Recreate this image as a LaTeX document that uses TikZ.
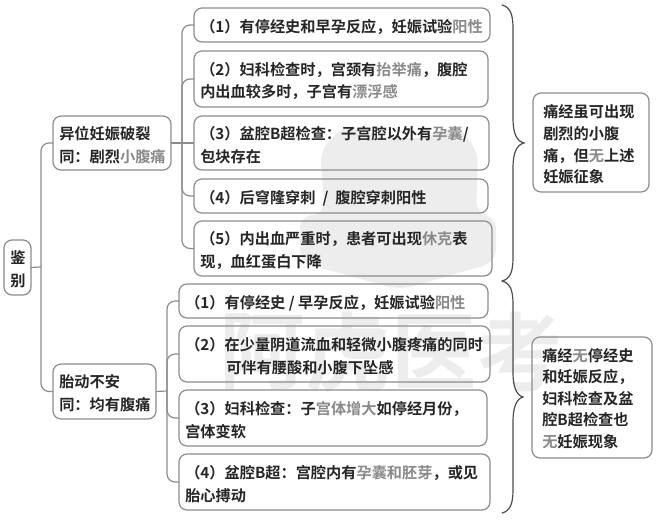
\documentclass[tikz,border=0pt]{standalone}
\usepackage{fontspec}
\setmainfont{Noto Sans CJK SC Bold}
\usetikzlibrary{calc}
\definecolor{inkc}{HTML}{262626}
\definecolor{hic}{HTML}{8A8A8A}
\definecolor{linec}{HTML}{8C8C8C}
\definecolor{wmc}{HTML}{EDEDED}
\newcommand{\hl}[1]{\textcolor{hic}{#1}}
\tikzset{
  x=0.75pt,y=-0.75pt,
  boxn/.style={draw=linec,line width=0.9pt,rounded corners=6pt,fill=none,inner sep=0pt,outer sep=0pt,anchor=north west},
  boxt/.style={anchor=west,inner sep=0pt,font=\fontsize{11.4pt}{17pt}\selectfont,text=inkc,align=left},
  sidet/.style={boxt,font=\fontsize{11.4pt}{16.2pt}\selectfont},
  conn/.style={draw=linec,line width=0.9pt,rounded corners=6pt},
  brc/.style={draw=black!70,line width=0.9pt,line cap=round},
  wm/.style={text=wmc,font=\fontsize{64pt}{64pt}\selectfont,inner sep=0pt},
}
\newcommand{\bx}[6]{% name, x1, y1, x2, y2, text
  \node[boxn,minimum width={(#4-#2)*0.75pt},minimum height={(#5-#3)*0.75pt}] (#1) at (#2,#3) {};
  \node[boxt] (#1t) at ($(#1.west)+(6,2)$) {#6};
}
\begin{document}
\begin{tikzpicture}
\useasboundingbox (0,0) rectangle (664,519);
\fill[white] (0,0) rectangle (664,519);
% watermark
\fill[wmc,rounded corners=10pt] (320,150) -- (345,125) -- (385,138) -- (425,138) -- (455,125) -- (478,150) -- (476,215) -- (496,215) -- (496,262) -- (400,290) -- (300,262) -- (300,215) -- (325,215) -- cycle;
\node[wm] (wma) at (262,352) {阿};
\node[wm] (wmb) at (348,352) {虎};
\node[wm] (wmc1) at (434,352) {医};
\node[wm] (wmd) at (520,352) {考};
% boxes
\bx{root}{4}{240}{31}{295}{鉴\\别}
\bx{a}{53}{116}{171}{170}{异位妊娠破裂\\同：剧烈\hl{小腹痛}}
\bx{b}{53}{364}{156}{419}{胎动不安\\同：均有腹痛}
\bx{a1}{194}{8}{490}{42}{（1）有停经史和早孕反应，妊娠试验\hl{阳性}}
\bx{a2}{194}{51}{488}{107}{（2）妇科检查时，宫颈有\hl{抬举痛}，腹腔\\内出血较多时，子宫有\hl{漂浮感}}
\bx{a3}{194}{116}{489}{170}{（3）盆腔B超检查：子宫腔以外有\hl{孕囊}/\\包块存在}
\bx{a4}{194}{179}{488}{213}{（4）后穹隆穿刺\ \ /\ \ 腹腔穿刺阳性}
\bx{a5}{194}{221}{492}{276}{（5）内出血严重时，患者可出现\hl{休克}表\\现，血红蛋白下降}
\bx{b1}{179}{284}{488}{318}{（1）有停经史 / 早孕反应，妊娠试验\hl{阳性}}
\bx{b2}{179}{326}{490}{382}{（2）在少量阴道流血和轻微小腹疼痛的同时\\\hspace*{30.75pt}可伴有腰酸和小腹下坠感}
\bx{b3}{179}{390}{487}{446}{（3）妇科检查：子\hl{宫体增大}如停经月份，\\宫体变软}
\bx{b4}{179}{454}{490}{510}{（4）盆腔B超：宫腔内有\hl{孕囊和胚芽}，或见\\胎心搏动}
\node[boxn,minimum width={116*0.75pt},minimum height={99*0.75pt}] (c) at (533,93) {};
\node[sidet] (ct) at ($(c.west)+(10,2)$) {痛经虽可出现\\剧烈的小腹\\痛，但\hl{无}上述\\妊娠征象};
\node[boxn,minimum width={120*0.75pt},minimum height={121*0.75pt}] (d) at (532,337) {};
\node[sidet] (dt) at ($(d.west)+(10,1)$) {痛经\hl{无}停经史\\和妊娠反应，\\妇科检查及盆\\腔B超检查也\\\hl{无}妊娠现象};
% connectors
\coordinate (j0) at (41,267);
\draw[linec,line width=0.9pt] (root.east) -- (j0);
\draw[conn] (a.west) -| (j0) |- (b.west);
\coordinate (j1) at (182,143);
\draw[linec,line width=0.9pt] (a.east) -- (a3.west);
\draw[conn] (a1.west) -| (j1) |- (a5.west);
\draw[conn] (a2.west) -| (j1);
\draw[conn] (a4.west) -| (j1);
\coordinate (j2) at (167,391);
\draw[linec,line width=0.9pt] (b.east) -- (j2);
\draw[conn] (b1.west) -| (j2) |- (b4.west);
\draw[conn] (b2.west) -| (j2);
\draw[conn] (b3.west) -| (j2);
% braces
\coordinate (p1) at (502,5);
\coordinate (p2) at (524,143);
\coordinate (p3) at (502,281);
\coordinate (p4) at (523,397);
\coordinate (p5) at (502,513);
\draw[brc] (p1) .. controls (510,7) and (513,14) .. (513,28) -- (513,118) .. controls (513,132) and (516,141) .. (p2) .. controls (516,145) and (513,154) .. (513,168) -- (513,258) .. controls (513,272) and (510,279) .. (p3);
\draw[brc] (p3) .. controls (510,283) and (513,290) .. (513,304) -- (513,372) .. controls (513,386) and (516,395) .. (p4) .. controls (516,399) and (513,408) .. (513,422) -- (513,490) .. controls (513,504) and (510,511) .. (p5);
\end{tikzpicture}
\end{document}
